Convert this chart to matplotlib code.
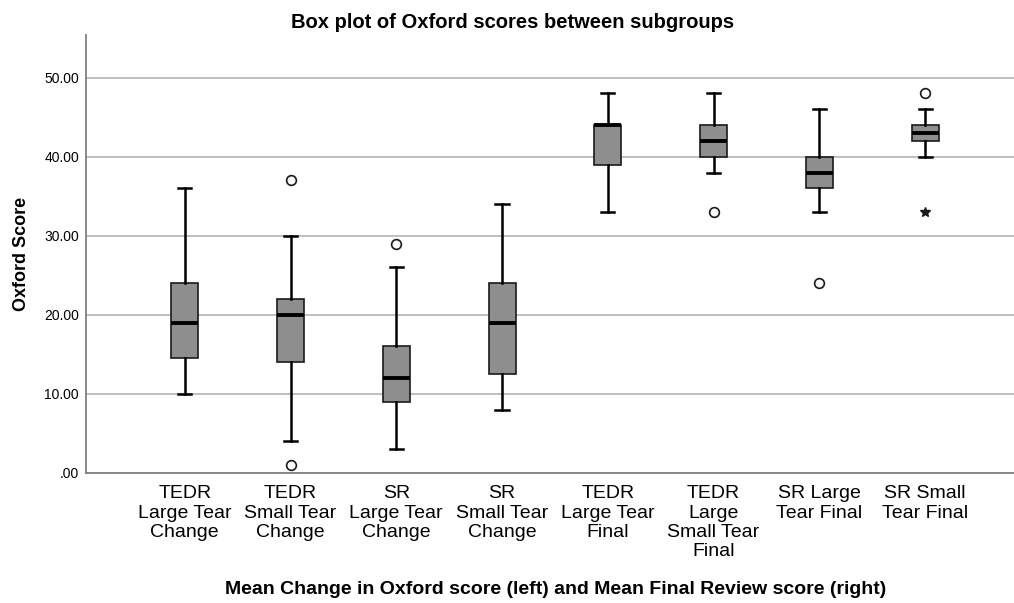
import matplotlib
matplotlib.use("Agg")
import matplotlib.pyplot as plt

plt.rcParams['font.family'] = ['Liberation Sans', 'DejaVu Sans']

# Subgroups (change scores on the left, final review scores on the right)
groups = ['TEDR\nLarge Tear\nChange', 'TEDR\nSmall Tear\nChange',
          'SR\nLarge Tear\nChange', 'SR\nSmall Tear\nChange',
          'TEDR\nLarge Tear\nFinal', 'TEDR\nLarge\nSmall Tear\nFinal',
          'SR Large\nTear Final', 'SR Small\nTear Final']

# Five-number summaries per subgroup
whisker_low = [10, 4, 3, 8, 33, 38, 33, 40]
q1 = [14.5, 14, 9, 12.5, 39, 40, 36, 42]
median = [19, 20, 12, 19, 44, 42, 38, 43]
q3 = [24, 22, 16, 24, 44, 44, 40, 44]
whisker_high = [36, 30, 26, 34, 48, 48, 46, 46]

# Outliers (circles) and extreme values (stars)
outliers = [[], [37, 1], [29], [], [], [33], [24], [48]]
extremes = [[], [], [], [], [], [], [], [33]]

yticks = [0, 10, 20, 30, 40, 50]

fig = plt.figure(figsize=(10.14, 6.03), dpi=100)
ax = fig.add_axes([0.0848, 0.2156, 0.9152, 0.7264])

stats = []
for i in range(len(groups)):
    stats.append(dict(med=median[i], q1=q1[i], q3=q3[i],
                      whislo=whisker_low[i], whishi=whisker_high[i],
                      fliers=outliers[i]))

positions = list(range(1, len(groups) + 1))
ax.bxp(stats, positions=positions, widths=0.255, patch_artist=True,
       showfliers=True,
       boxprops=dict(facecolor='#8E8E8E', edgecolor='#1a1a1a', linewidth=1.2),
       medianprops=dict(color='black', linewidth=2.8),
       whiskerprops=dict(color='black', linewidth=1.8),
       capprops=dict(color='black', linewidth=1.8),
       capwidths=0.125,
       flierprops=dict(marker='o', markersize=7, markerfacecolor='white',
                       markeredgecolor='#1a1a1a', markeredgewidth=1.2),
       zorder=3)

for pos, vals in zip(positions, extremes):
    if vals:
        ax.plot([pos] * len(vals), vals, linestyle='none', marker='*',
                markersize=7, color='#1a1a1a', zorder=4)

ax.set_xlim(0.066, 8.84)
ax.set_ylim(0, 55.4)
ax.set_yticks(yticks)
ax.set_yticklabels(['.00'] + [f'{v:.2f}' for v in yticks[1:]], fontsize=10)
ax.set_xticks(positions)
ax.set_xticklabels(groups, fontsize=14, linespacing=1.17)
ax.tick_params(axis='x', length=0, pad=9)
ax.tick_params(axis='y', length=0, pad=5)

ax.yaxis.grid(True, color='#b4b4b4', linewidth=1.2, zorder=0)
ax.set_axisbelow(True)
for side in ['top', 'right']:
    ax.spines[side].set_visible(False)
ax.spines['left'].set_color('#808080')
ax.spines['bottom'].set_color('#808080')
ax.spines['left'].set_linewidth(1.3)
ax.spines['bottom'].set_linewidth(1.3)

ax.set_ylabel('Oxford Score', fontsize=13, fontweight='bold', labelpad=10)
fig.text(0.505, 0.962, 'Box plot of Oxford scores between subgroups',
         ha='center', va='center', fontsize=14.5, fontweight='bold')
fig.text(0.548, 0.022,
         'Mean Change in Oxford score (left) and Mean Final Review score (right)',
         ha='center', va='center', fontsize=14, fontweight='bold')

fig.savefig('out.png', dpi=100)
